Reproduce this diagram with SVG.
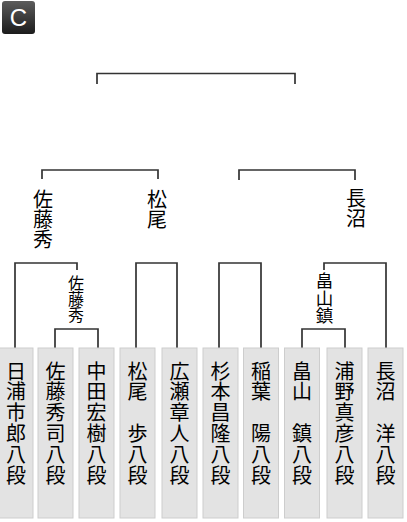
<svg xmlns="http://www.w3.org/2000/svg" width="407" height="522" viewBox="0 0 407 522">
<defs>
<linearGradient id="ig" x1="0" y1="0" x2="0" y2="1">
<stop offset="0" stop-color="#5c5c5c"/>
<stop offset="1" stop-color="#1c1c1c"/>
</linearGradient>
</defs>
<style>
.box{fill:#e3e3e3;stroke:#cdcdcd;stroke-width:1}
.ln{fill:none;stroke:#333;stroke-width:1.7}
.nm{font-family:"Noto Sans CJK JP","Noto Sans CJK SC",sans-serif;font-size:20px;fill:#000;writing-mode:vertical-rl;letter-spacing:0.8px}
.sf{font-family:"Noto Sans CJK JP","Noto Sans CJK SC",sans-serif;font-size:20px;fill:#000;writing-mode:vertical-rl}
.sm{font-family:"Noto Sans CJK JP","Noto Sans CJK SC",sans-serif;font-size:16px;fill:#000;writing-mode:vertical-rl}
</style>
<rect width="407" height="522" fill="#fff"/>
<g id="icon">
<rect x="2" y="1" width="33" height="33" rx="3" fill="url(#ig)"/>
<text x="18.5" y="26" text-anchor="middle" font-family="Liberation Sans, sans-serif" font-size="24" fill="#fff">C</text>
</g>
<g id="connectors">
<path class="ln" d="M97 84V73.5H295V84"/>
<path class="ln" d="M42 179V170H158V179"/>
<path class="ln" d="M239 180V170H355V180"/>
<path class="ln" d="M15 348V263H77V270"/>
<path class="ln" d="M136 348V263H177V348"/>
<path class="ln" d="M219 348V263H261V348"/>
<path class="ln" d="M386 348V263H324V270"/>
<path class="ln" d="M55 348V329H98V348"/>
<path class="ln" d="M302 348V329H345V348"/>
</g>
<g id="sf-sato"><text class="sf" x="43" y="189">佐藤秀</text></g>
<g id="sf-matsuo"><text class="sf" x="157" y="189">松尾</text></g>
<g id="sf-naganuma"><text class="sf" x="356" y="188">長沼</text></g>
<g id="r2-sato"><text class="sm" x="76" y="275">佐藤秀</text></g>
<g id="r2-hatakeyama"><text class="sm" x="324.5" y="272" style="font-size:17.5px">畠山鎮</text></g>
<g id="p1"><rect class="box" x="-2" y="348" width="35" height="170"/><text class="nm" x="16" y="361">日浦市郎八段</text></g>
<g id="p2"><rect class="box" x="38" y="348" width="35" height="170"/><text class="nm" x="55.5" y="361">佐藤秀司八段</text></g>
<g id="p3"><rect class="box" x="79" y="348" width="35" height="170"/><text class="nm" x="96.5" y="361">中田宏樹八段</text></g>
<g id="p4"><rect class="box" x="120" y="348" width="35" height="170"/><text class="nm" x="137.5" y="361">松尾　歩八段</text></g>
<g id="p5"><rect class="box" x="162" y="348" width="35" height="170"/><text class="nm" x="179.5" y="361">広瀬章人八段</text></g>
<g id="p6"><rect class="box" x="203" y="348" width="35" height="170"/><text class="nm" x="220.5" y="361">杉本昌隆八段</text></g>
<g id="p7"><rect class="box" x="243.5" y="348" width="35" height="170"/><text class="nm" x="261" y="361">稲葉　陽八段</text></g>
<g id="p8"><rect class="box" x="284.5" y="348" width="35" height="170"/><text class="nm" x="302" y="361">畠山　鎮八段</text></g>
<g id="p9"><rect class="box" x="327" y="348" width="35" height="170"/><text class="nm" x="344.5" y="361">浦野真彦八段</text></g>
<g id="p10"><rect class="box" x="368" y="348" width="35" height="170"/><text class="nm" x="385.5" y="361">長沼　洋八段</text></g>
</svg>
